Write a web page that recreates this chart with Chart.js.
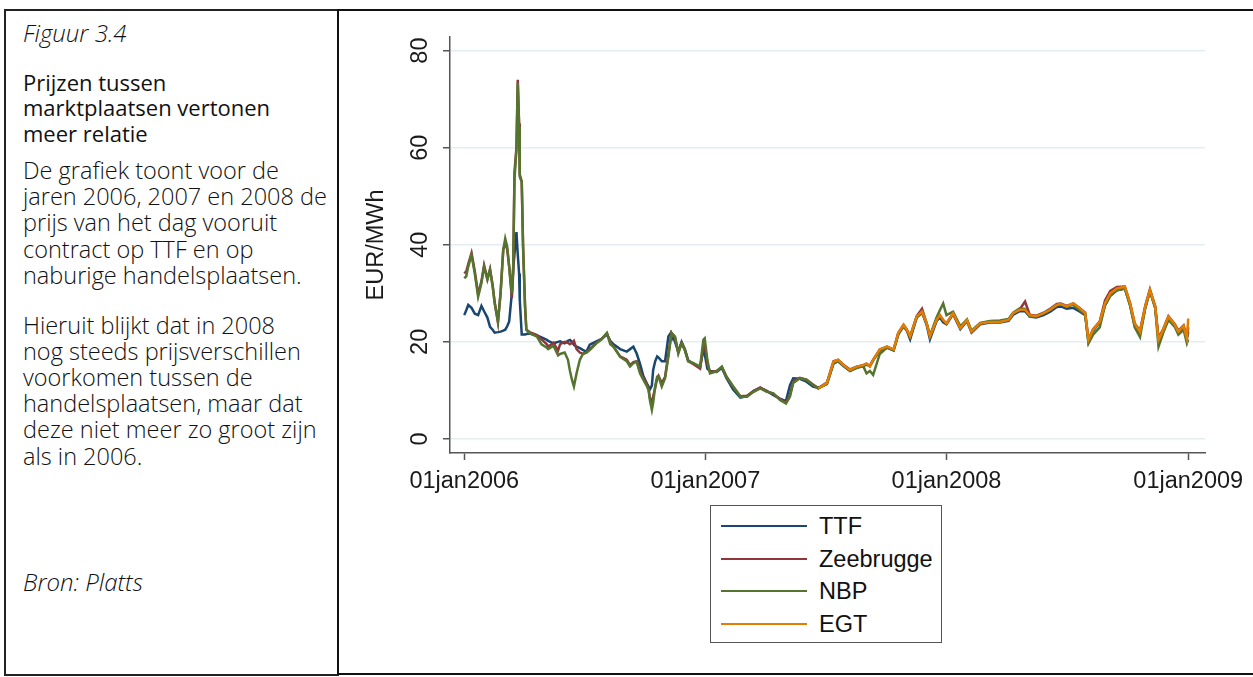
<!DOCTYPE html>
<html>
<head>
<meta charset="utf-8">
<script src="https://cdn.jsdelivr.net/npm/chart.js@4.4.1/dist/chart.umd.min.js"></script>
<style>
    html, body { margin: 0; padding: 0; background: #fff; }
    body { width: 1253px; height: 677px; position: relative; overflow: hidden; font-family: 'Open Sans', sans-serif; color: #111; }
    #links { position: absolute; left: 4px; top: 9px; width: 335px; height: 667px; border: 2px solid #222; box-sizing: border-box; }
    #rechts { position: absolute; left: 337px; top: 9px; width: 1000px; height: 666px; border: 2px solid #111; box-sizing: border-box; }
    .blok { position: absolute; left: 23px; white-space: nowrap; }
    .fig { top: 20px; font-size: 24px; line-height: 26px; font-style: italic; font-weight: 300; }
    .titel { top: 69.5px; font-size: 22px; line-height: 25.5px; font-weight: 500; }
    .tekst { font-size: 23.5px; font-weight: 300; line-height: 26.2px; }
    #grafiek { position: absolute; left: 339px; top: 11px; }
    #legenda { position: absolute; left: 710px; top: 505px; width: 232px; height: 138px; border: 1.5px solid #555; box-sizing: border-box; font-family: 'Liberation Sans', Arial, sans-serif; font-size: 23.5px; color: #111; }
    .item { position: absolute; left: 0; height: 26px; width: 230px; }
    .item span.lijn { position: absolute; left: 10px; top: 12px; width: 86px; height: 2px; }
    .item span.naam { position: absolute; left: 108px; top: 0; line-height: 26px; }
</style>
</head>
<body>
<div id="links"></div>
<div id="rechts"></div>

<div class="blok fig">Figuur 3.4</div>
<div class="blok titel">Prijzen tussen<br>marktplaatsen vertonen<br>meer relatie</div>
<div class="blok tekst" style="top:157px">De grafiek toont voor de<br>jaren 2006, 2007 en 2008 de<br>prijs van het dag vooruit<br>contract op TTF en op<br>naburige handelsplaatsen.</div>
<div class="blok tekst" style="top:311.5px">Hieruit blijkt dat in 2008<br>nog steeds prijsverschillen<br>voorkomen tussen de<br>handelsplaatsen, maar dat<br>deze niet meer zo groot zijn<br>als in 2006.</div>
<div class="blok fig" style="top:569px">Bron: Platts</div>

<canvas id="grafiek" width="914" height="494"></canvas>
<div id="legenda"></div>

<script>
// dagen sinds 01jan2006
var dag = [0, 3, 6, 11, 16, 21, 26, 30, 35, 39, 43, 46, 51, 55, 59, 62, 65, 68, 72, 74, 76, 79, 81, 83, 84, 87, 89, 92, 94, 99,
    110, 117, 125, 127, 135, 142, 145, 152, 157, 160, 163, 166, 170, 175, 180, 185, 190, 200, 208, 216, 221, 226,
    236, 246, 251, 256, 261, 266, 271, 276, 279, 281, 284, 286, 289, 292, 294, 299, 304, 309, 313, 314, 319, 324, 329, 334, 339, 347, 357, 362, 364, 368, 372,
    382, 390, 397, 407, 418, 428, 438, 448, 458, 468, 478, 487, 493, 498, 508, 518, 528,
    536, 549, 559, 566, 574, 584, 594, 604, 609, 614, 619, 629, 640, 650, 657, 665, 670, 675, 685, 693,
    700, 705, 715, 720, 725, 730, 740, 751, 761, 768, 781, 796, 811, 824, 831, 841, 849, 856, 866, 877,
    887, 897, 903, 912, 922, 932, 940, 945, 952, 962, 970, 978, 988, 1000, 1008, 1015, 1023, 1031, 1038, 1046,
    1051, 1058, 1066, 1076, 1081, 1089, 1094, 1096];

// EUR/MWh
var ttf = [25.5, 26.5, 27.6, 27.0, 25.8, 25.5, 27.4, 26.3, 25.0, 23.1, 22.5, 21.9, 22.0, 22.1, 22.3, 22.5, 23.2, 24.2, 30.0, 35.0, 38.0, 42.6, 38.0, 34.1, 28.7, 21.5, 21.5, 21.5, 21.6, 21.7,
    21.3, 20.9, 20.4, 20.2, 19.7, 20.0, 20.1, 19.7, 20.2, 20.4, 20.0, 19.4, 19.0, 18.7, 18.3, 18.0, 19.4, 20.1, 20.6, 21.5, 20.2, 19.5,
    18.5, 18.0, 18.5, 19.0, 17.6, 15.5, 13.0, 11.5, 10.8, 10.2, 11.0, 14.2, 16.0, 17.0, 16.8, 16.0, 16.0, 21.1, 21.9, 21.5, 20.0, 18.0, 20.0, 18.5, 16.2, 15.5, 14.8, 18.5, 17.5, 14.5, 14.0,
    13.8, 14.6, 12.5, 10.2, 8.5, 8.8, 9.9, 10.5, 9.9, 9.0, 8.3, 7.8, 11.0, 12.5, 12.4, 11.8, 10.8,
    10.5, 11.3, 15.5, 16.0, 15.0, 14.0, 14.7, 15.0, 15.3, 15.0, 16.2, 18.2, 18.8, 18.2, 21.5, 23.2, 22.3, 20.5, 25.0, 26.0,
    23.5, 20.5, 24.3, 25.0, 24.0, 23.6, 25.7, 22.6, 24.3, 21.9, 23.6, 24.0, 24.0, 24.3, 25.6, 26.3, 26.3, 25.2, 25.0, 25.5,
    26.2, 27.2, 27.3, 26.8, 27.0, 26.2, 25.5, 20.0, 22.3, 24.0, 27.5, 29.5, 30.6, 31.0, 27.5, 23.3, 21.8, 27.0, 30.5, 27.0,
    20.4, 22.3, 24.8, 23.2, 22.0, 23.0, 20.7, 22.1];

var zeebrugge = [34.1, 34.5, 36.0, 38.3, 34.5, 29.8, 32.5, 35.8, 33.0, 35.0, 31.6, 28.2, 24.0, 30.2, 39.0, 40.5, 39.0, 35.5, 29.0, 34.0, 55.0, 60.0, 74.0, 65.0, 54.5, 53.0, 40.0, 27.5, 22.5, 22.0,
    21.4, 20.5, 19.5, 19.0, 19.8, 18.2, 19.5, 20.0, 19.8, 19.5, 19.8, 20.2, 18.5, 17.8, 17.5, 17.8, 18.5, 19.8, 20.6, 21.8, 20.0, 19.0,
    17.0, 16.3, 15.2, 15.8, 16.0, 14.0, 12.5, 11.5, 10.2, 8.5, 7.5, 8.8, 10.5, 12.5, 13.0, 11.5, 12.8, 17.5, 21.0, 21.8, 21.0, 17.8, 19.8, 18.3, 16.0, 15.4, 14.5, 19.0, 19.5, 15.5, 13.8,
    14.0, 14.8, 12.8, 10.8, 8.8, 8.9, 9.8, 10.6, 9.8, 9.3, 8.2, 7.5, 9.0, 11.8, 12.6, 12.2, 11.2,
    10.5, 11.6, 16.0, 16.3, 15.3, 14.3, 14.9, 15.2, 15.5, 15.0, 16.3, 18.4, 19.0, 18.4, 21.8, 23.5, 22.5, 21.1, 25.3, 26.8,
    23.8, 21.3, 24.6, 25.5, 24.5, 23.8, 25.9, 22.8, 24.5, 22.1, 23.8, 24.2, 24.2, 24.6, 25.9, 26.7, 28.3, 25.6, 25.4, 26.0,
    26.8, 27.8, 27.9, 27.4, 27.9, 26.9, 26.0, 20.5, 22.6, 24.2, 28.5, 30.5, 31.3, 31.4, 28.0, 23.8, 22.3, 27.5, 30.8, 27.4,
    20.8, 22.6, 25.3, 23.6, 22.3, 23.4, 21.0, 23.0];

var nbp = [33.1, 33.5, 35.5, 37.9, 34.0, 29.3, 32.1, 35.5, 32.8, 34.8, 31.4, 28.0, 24.2, 30.0, 38.9, 41.3, 39.6, 35.5, 30.0, 34.8, 53.4, 59.6, 73.3, 64.3, 54.0, 53.0, 39.6, 27.3, 22.5, 21.8,
    21.1, 19.5, 18.8, 18.5, 19.2, 17.2, 17.5, 17.8, 16.3, 14.0, 12.2, 10.8, 13.5, 16.3, 17.6, 17.8, 18.3, 19.7, 20.5, 21.8, 19.5, 19.0,
    16.9, 16.0, 14.9, 15.6, 15.9, 13.5, 12.2, 11.0, 10.1, 8.0, 6.0, 7.5, 10.8, 12.8, 12.9, 10.8, 12.5, 16.9, 21.2, 21.8, 21.1, 17.6, 19.7, 18.3, 16.0, 15.6, 14.9, 20.4, 20.7, 16.3, 13.5,
    13.9, 14.9, 12.8, 10.8, 8.7, 8.7, 9.7, 10.4, 9.7, 9.4, 8.0, 7.3, 8.7, 11.5, 12.5, 12.2, 11.1,
    10.4, 11.4, 15.6, 16.1, 15.1, 14.1, 14.6, 15.0, 13.5, 14.0, 13.2, 17.5, 18.8, 18.3, 21.6, 23.3, 22.4, 21.0, 25.2, 26.2,
    23.8, 21.2, 25.0, 26.5, 27.9, 25.5, 26.2, 23.2, 24.6, 22.3, 23.9, 24.3, 24.4, 24.7, 26.0, 26.9, 26.8, 25.2, 25.2, 25.8,
    26.6, 27.6, 27.8, 27.2, 27.7, 26.5, 25.7, 19.7, 21.5, 23.0, 27.5, 29.5, 30.6, 31.0, 27.5, 23.0, 21.0, 27.0, 30.5, 27.0,
    19.0, 21.8, 24.5, 23.0, 21.5, 22.5, 19.7, 20.5];

// EGT begint pas medio 2007 (laatste 68 dagen van de lijst)
var egt = [10.4, 11.5, 15.9, 16.3, 15.2, 14.2, 14.9, 15.2, 15.5, 14.9, 16.3, 18.4, 19.0, 18.4, 21.8, 23.5, 22.5, 21.1, 25.2, 26.2,
    23.8, 21.1, 24.5, 25.5, 24.5, 23.8, 25.9, 22.8, 24.5, 22.1, 23.8, 24.1, 24.1, 24.5, 25.9, 26.6, 26.6, 25.5, 25.3, 25.9,
    26.6, 27.6, 27.8, 27.3, 27.9, 26.9, 25.9, 20.4, 22.5, 24.1, 27.9, 30.0, 31.0, 31.4, 27.9, 23.8, 22.1, 27.3, 30.7, 27.3,
    20.4, 22.5, 25.2, 23.5, 22.1, 23.3, 20.7, 24.8];

var namen = ['TTF', 'Zeebrugge', 'NBP', 'EGT'];
var kleuren = ['#1a476f', '#90353b', '#55752f', '#e37e00'];
var yTicks = [0, 20, 40, 60, 80];
var xTicks = [0, 365, 730, 1096];
var xLabels = ['01jan2006', '01jan2007', '01jan2008', '01jan2009'];

function punten(waarden) {
    var start = dag.length - waarden.length;
    var lijst = [];
    for (var i = 0; i < waarden.length; i++) {
        lijst.push({ x: dag[start + i], y: waarden[i] });
    }
    return lijst;
}

var series = [ttf, zeebrugge, nbp, egt];
var datasets = [];
for (var i = 0; i < series.length; i++) {
    datasets.push({
        label: namen[i],
        data: punten(series[i]),
        borderColor: kleuren[i],
        backgroundColor: kleuren[i],
        borderWidth: 2.5,
        pointRadius: 0,
        tension: 0,
        fill: false,
        order: series.length - i
    });
}

var lettertype = { family: 'Liberation Sans', size: 23.5 };

const config = {
    type: 'line',
    data: { datasets: datasets },
    options: {
        responsive: false,
        animation: false,
        layout: { padding: { top: 26, right: 48, left: 0, bottom: 0 } },
        plugins: { legend: { display: false }, tooltip: { enabled: false } },
        scales: {
            x: {
                type: 'linear',
                min: -21.6,
                max: 1121.4,
                afterBuildTicks: function (s) { s.ticks = xTicks.map(function (v) { return { value: v }; }); },
                afterFit: function (s) { s.height = 52; },
                ticks: {
                    callback: function (v) { return xLabels[xTicks.indexOf(v)]; },
                    autoSkip: false, maxRotation: 0, padding: 7,
                    color: '#1a1a1a', font: lettertype
                },
                grid: { drawOnChartArea: false, tickLength: 7, tickColor: '#555', tickWidth: 1.5 },
                border: { color: '#555', width: 1.5 }
            },
            y: {
                min: -2.9,
                max: 82.8,
                afterBuildTicks: function (s) { s.ticks = yTicks.map(function (v) { return { value: v }; }); },
                afterFit: function (s) { s.width = 111; },
                ticks: {
                    minRotation: 90, maxRotation: 90, crossAlign: 'center', padding: 9,
                    color: '#1a1a1a', font: lettertype
                },
                grid: { color: '#e4edf1', lineWidth: 1.5, tickLength: 7, tickColor: '#555', tickWidth: 1.5 },
                border: { color: '#555', width: 1.5 },
                title: { display: true, text: 'EUR/MWh', color: '#1a1a1a', font: lettertype, padding: { top: 23, bottom: 0 } }
            }
        }
    }
};

let myChart = new Chart(document.getElementById('grafiek'), config);

// legenda in een kader, zoals in de figuur
var legenda = document.getElementById('legenda');
for (var j = 0; j < namen.length; j++) {
    var item = document.createElement('div');
    item.className = 'item';
    item.style.top = (7 + j * 32.6) + 'px';
    item.innerHTML = '<span class="lijn" style="background:' + kleuren[j] + '"></span><span class="naam">' + namen[j] + '</span>';
    legenda.appendChild(item);
}
</script>
</body>
</html>
